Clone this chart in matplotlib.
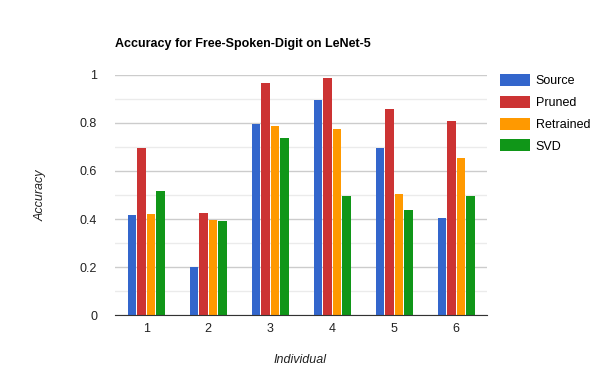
import matplotlib.pyplot as plt
import numpy as np

plt.rcParams['font.family'] = ['Liberation Sans', 'DejaVu Sans']

# Dados
individuos = ['1', '2', '3', '4', '5', '6']
source = [0.418, 0.201, 0.797, 0.897, 0.697, 0.406]
pruned = [0.697, 0.426, 0.968, 0.989, 0.856, 0.806]
retrained = [0.422, 0.397, 0.789, 0.776, 0.506, 0.656]
svd = [0.518, 0.393, 0.739, 0.497, 0.439, 0.497]

series = [('Source', source, '#3366cc'),
          ('Pruned', pruned, '#cc3333'),
          ('Retrained', retrained, '#ff9900'),
          ('SVD', svd, '#109618')]

fig = plt.figure(figsize=(6, 3.9), dpi=100)
ax = fig.add_axes([0.192, 0.192, 0.62, 0.616])

x = np.arange(len(individuos))
largura = 0.155
for i, (nome, valores, cor) in enumerate(series):
    ax.bar(x + (i - 1.5) * largura, valores, largura * 0.88, color=cor, label=nome, zorder=3)

ax.set_xlim(-0.5, len(individuos) - 0.5)
ax.set_ylim(0, 1)
ax.set_yticks([0, 0.2, 0.4, 0.6, 0.8, 1])
ax.set_yticklabels(['0', '0.2', '0.4', '0.6', '0.8', '1'])
ax.set_yticks(np.arange(0.1, 1, 0.2), minor=True)
ax.set_xticks(x)
ax.set_xticklabels(individuos)
ax.grid(axis='y', which='major', color='#cccccc', linewidth=1, zorder=0)
ax.grid(axis='y', which='minor', color='#ebebeb', linewidth=1, zorder=0)
ax.tick_params(axis='both', which='both', length=0, labelsize=9, colors='#222222', pad=6)
ax.tick_params(axis='y', pad=13)
for lado in ['top', 'right', 'left']:
    ax.spines[lado].set_visible(False)
ax.spines['bottom'].set_color('#333333')
ax.spines['bottom'].set_zorder(4)

# Rótulos dos eixos posicionados na figura
fig.text(0.50, 0.077, 'Individual', fontsize=9, style='italic', color='#222222',
         ha='center', va='center')
fig.text(0.068, 0.5, 'Accuracy', fontsize=9, style='italic', color='#222222',
         ha='center', va='center', rotation=90)
fig.text(0.192, 0.873, 'Accuracy for Free-Spoken-Digit on LeNet-5', fontsize=9,
         fontweight='bold', color='#000000', va='bottom')

ax.legend(loc='upper left', bbox_to_anchor=(1.003, 1.05), frameon=False, fontsize=9,
          handlelength=2.4, handleheight=1.1, labelspacing=0.68, handletextpad=0.5)

plt.savefig('out.png', dpi=100)
